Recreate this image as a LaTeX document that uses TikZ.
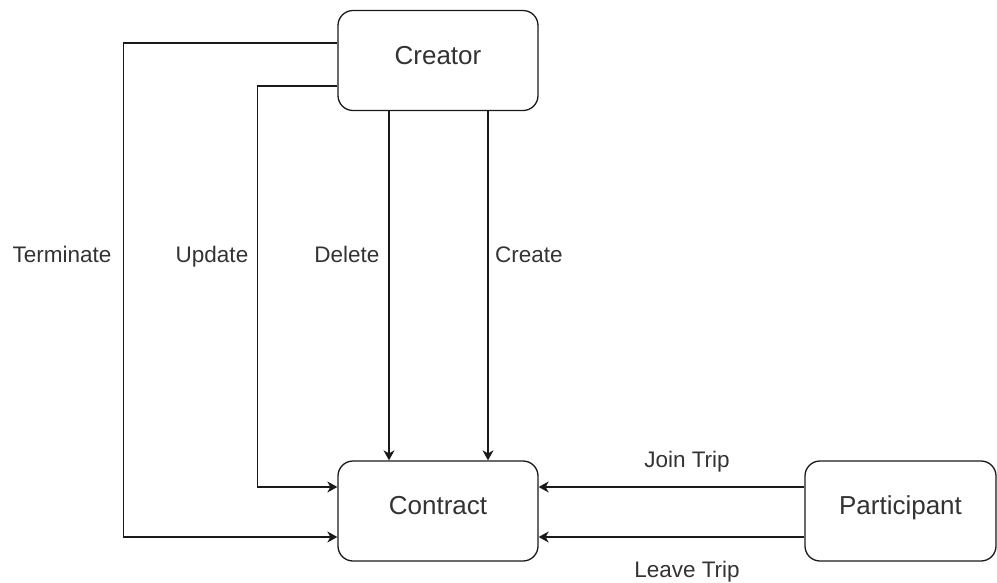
\documentclass[tikz,border=0pt]{standalone}
\usepackage{fontspec}
\setmainfont{Liberation Sans}
\usetikzlibrary{arrows.meta}
\definecolor{ink}{HTML}{1A1A1A}
\definecolor{txt}{HTML}{333333}
\begin{document}
\begin{tikzpicture}[x=1pt,y=-1pt,
  box/.style={draw=ink, line width=1.3pt, rounded corners=15pt,
    minimum height=100pt, inner sep=0pt, text=txt,
    font=\fontsize{26}{30}\selectfont, text height=0.72em, text depth=0pt},
  lbl/.style={anchor=base, text=txt, inner sep=0pt,
    font=\fontsize{22.5}{27}\selectfont},
  arr/.style={draw=ink, line width=1.3pt,
    -{Stealth[length=10pt, width=11pt, inset=3pt]}}]
  \useasboundingbox (0,0) rectangle (997,582);

  % the three actors
  \node[box, minimum width=200pt] (Creator) at (438,60.5) {Creator};
  \node[box, minimum width=200pt] (Contract) at (438,511) {Contract};
  \node[box, minimum width=191pt] (Participant) at (900.5,511) {Participant};

  % creator operations
  \draw[arr] ([yshift=17.5pt]Creator.west) -- ++(-214,0)
             |- ([yshift=-26pt]Contract.west);
  \draw[arr] ([yshift=-25.5pt]Creator.west) -- ++(-80,0)
             |- ([yshift=24pt]Contract.west);
  \draw[arr] ([xshift=-49pt]Creator.south) -- ([xshift=-49pt]Contract.north);
  \draw[arr] ([xshift=50pt]Creator.south) -- ([xshift=50pt]Contract.north);

  % participant operations
  \draw[arr] ([yshift=24pt]Participant.west) -- ([yshift=24pt]Contract.east);
  \draw[arr] ([yshift=-26pt]Participant.west) -- ([yshift=-26pt]Contract.east);

  % edge labels
  \node[lbl] (lTerminate) at (62,262) {Terminate};
  \node[lbl] (lUpdate) at (212,262) {Update};
  \node[lbl] (lDelete) at (347,262) {Delete};
  \node[lbl] (lCreate) at (529,262) {Create};
  \node[lbl] (lJoin) at (687,467.5) {Join Trip};
  \node[lbl] (lLeave) at (687,577) {Leave Trip};
\end{tikzpicture}
\end{document}
